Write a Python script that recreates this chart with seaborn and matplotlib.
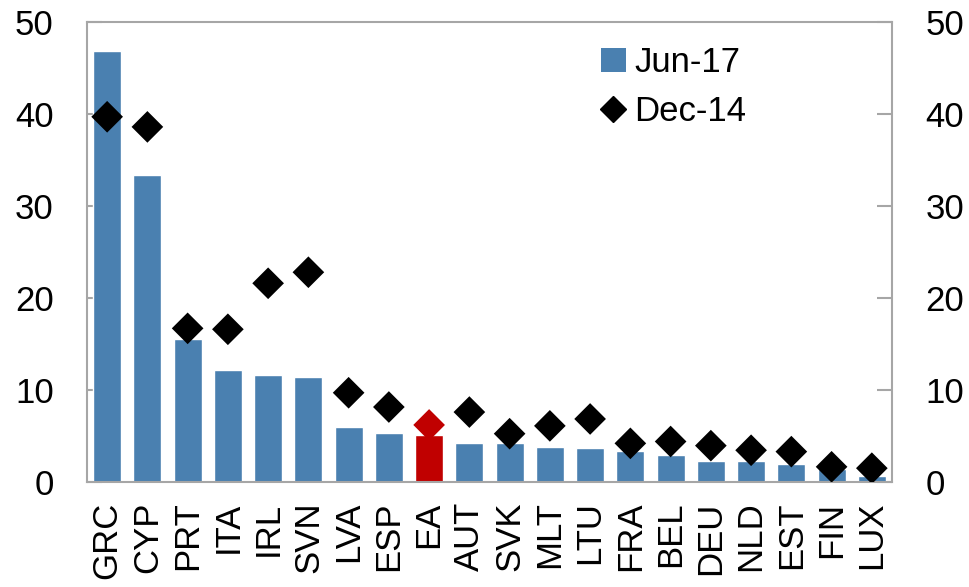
import pandas as pd
import matplotlib.pyplot as plt
import seaborn as sns
from matplotlib.patches import Patch
from matplotlib.lines import Line2D

sns.set_style("white")
plt.rcParams['font.family'] = ['Liberation Sans', 'DejaVu Sans']

countries = ["GRC", "CYP", "PRT", "ITA", "IRL", "SVN", "LVA", "ESP", "EA", "AUT", "SVK",
             "MLT", "LTU", "FRA", "BEL", "DEU", "NLD", "EST", "FIN", "LUX"]
jun17 = [46.9, 33.4, 15.5, 12.2, 11.6, 11.4, 6.0, 5.3, 5.1, 4.2, 4.2,
         3.8, 3.7, 3.4, 2.9, 2.3, 2.3, 2.0, 1.4, 0.7]
dec14 = [39.7, 38.6, 16.7, 16.6, 21.6, 22.8, 9.7, 8.15, 6.2, 7.6, 5.25,
         6.1, 6.85, 4.2, 4.4, 3.95, 3.45, 3.3, 1.65, 1.5]
yticks = [0, 10, 20, 30, 40, 50]

blue = "#4A80B0"
red = "#C00000"
grey = "#A6A6A6"

df = pd.DataFrame({"country": countries, "jun17": jun17, "dec14": dec14})
bar_colors = {c: (red if c == "EA" else blue) for c in countries}
dot_colors = {c: (red if c == "EA" else "black") for c in countries}

fig = plt.figure(figsize=(9.69, 5.87), dpi=100)
ax = fig.add_axes([0.0898, 0.1789, 0.8307, 0.7836])

sns.barplot(data=df, x="country", y="jun17", hue="country", palette=bar_colors,
            width=0.7, legend=False, ax=ax, saturation=1)
sns.scatterplot(data=df, x="country", y="dec14", hue="country", palette=dot_colors,
                marker="D", s=260, linewidth=0, legend=False, ax=ax, zorder=3)

ax.set_xlim(-0.5, len(countries) - 0.5)
ax.set_ylim(0, 50)
ax.set_yticks(yticks)
ax.set_xlabel("")
ax.set_ylabel("")

for s in ax.spines.values():
    s.set_color(grey)
    s.set_linewidth(1.5)

ax.tick_params(axis="y", which="both", direction="in", length=11, width=1.5, color=grey,
               labelcolor="black", labelsize=25, pad=24, left=True, right=True,
               labelleft=True, labelright=True)
ax.tick_params(axis="x", length=0, labelsize=25, pad=14, labelrotation=90, labelcolor="black")

handles = [Patch(facecolor=blue, edgecolor="none"),
           Line2D([], [], marker="D", color="black", linestyle="none", markersize=13)]
leg = ax.legend(handles, ["Jun-17", "Dec-14"], loc="upper left", bbox_to_anchor=(0.6, 1.015),
                frameon=False, fontsize=25, handlelength=0.7, handletextpad=0.25,
                labelspacing=0.45, labelcolor="black")

plt.savefig("out.png", dpi=100)
